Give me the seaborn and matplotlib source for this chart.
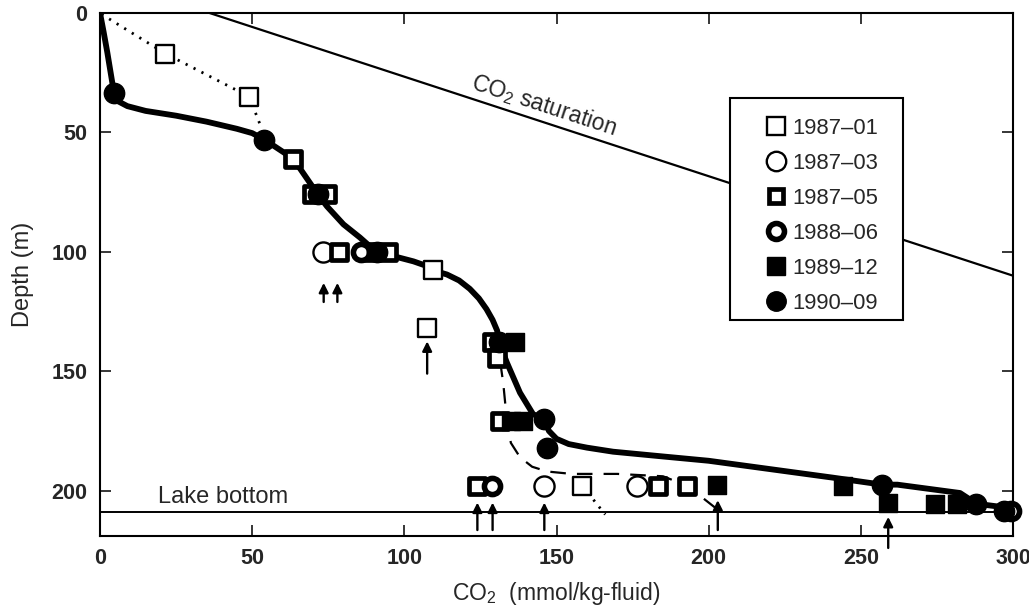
import numpy as np
import matplotlib
matplotlib.use("Agg")
import matplotlib.pyplot as plt
import seaborn as sns
from matplotlib.lines import Line2D
from matplotlib.patches import Rectangle

# ---------------- data ----------------
sat_x = [36, 300]
sat_y = [0, 110]
lake_depth = 209

s8701_x = [21.5, 49, 109.5, 107.5, 158.5]
s8701_y = [17, 35, 107.5, 132, 198]

s8703_x = [73.3, 146, 176.5]
s8703_y = [100, 198, 198]

s8705_x = [63.5, 69.7, 74.6, 78.5, 89, 94.7, 128.8, 130.5, 131.5, 124, 183.5, 193]
s8705_y = [61, 76, 76, 100, 100, 100, 137.6, 144.5, 171, 198, 198, 198]

s8806_x = [85.8, 128.8, 299.5]
s8806_y = [100, 198, 208.5]

s8912_x = [136.4, 135, 139, 202.8, 244, 259, 274.4, 281.6]
s8912_y = [137.6, 171, 171, 197.5, 198, 205, 205.4, 205.4]

s9009_x = [4.6, 54, 71.6, 91, 131, 146, 147, 257, 288, 297]
s9009_y = [33.5, 53, 76, 100, 137.6, 170, 182, 197.5, 205.5, 208.6]

# fitted profile curves
curve_x = [0, 1.2, 2.4, 3.5, 4.6, 6, 9, 15, 25, 35, 45, 50, 54, 63.5, 71.6, 74.6, 80, 85.4,
           88.5, 91, 97, 103, 107.5, 110, 114, 118, 121.5, 124.5, 127, 129, 130.5, 131,
           133.7, 138, 142.3, 146, 147.5, 150, 154, 160, 168.6, 185, 200, 241, 257,
           262, 282.6, 288, 294.8, 298]
curve_y = [0, 8, 16.5, 25, 33.5, 37, 39, 41, 43, 45.5, 48.5, 50.3, 53, 61, 76, 81, 88.5, 94,
           97.5, 100, 102, 104, 106, 108, 109.5, 112, 115.5, 119.5, 124, 128.5, 133, 137.6,
           146.4, 159, 168, 170, 175, 178.3, 180.5, 182, 183.7, 185.7, 187.5, 194.6, 197.5,
           197.5, 201, 205.5, 206.6, 208.6]

dash_x = [131.5, 132.5, 133.5, 135, 138, 142, 147, 155, 170, 185, 193, 203]
dash_y = [146, 155, 168, 180, 186, 190, 192, 193, 193, 194, 198, 208]

dot1_x = [0.5, 21.5, 49, 53]
dot1_y = [0.5, 17, 35, 48]
dot2_x = [158.5, 166]
dot2_y = [198, 210]

arrow_x = [73.5, 78, 107.5, 124, 129, 146, 203, 259]
arrow_tip = [113, 113, 137.5, 205, 205, 205, 204, 211]
arrow_tail = [121, 121, 151, 216.5, 216.5, 216.5, 216.5, 224]

legend_labels = ["1987\u201301", "1987\u201303", "1987\u201305", "1988\u201306", "1989\u201312", "1990\u201309"]

# ---------------- style ----------------
sns.set_style("ticks")
plt.rcParams['font.family'] = ['Liberation Sans', 'DejaVu Sans']
plt.rcParams['mathtext.default'] = 'regular'

fig = plt.figure(figsize=(10.29, 6.10), dpi=100)
ax = fig.add_axes([100 / 1029, 1 - 536 / 610, 913 / 1029, 523 / 610])

ax.set_xlim(0, 300)
ax.set_ylim(219, 0)

# lines
sns.lineplot(x=sat_x, y=sat_y, sort=False, estimator=None, color="black", linewidth=1.6, ax=ax)
ax.axhline(lake_depth, color="black", linewidth=1.4, zorder=1)
sns.lineplot(x=curve_x, y=curve_y, sort=False, estimator=None, color="black", linewidth=4.2,
             ax=ax, zorder=2)
sns.lineplot(x=dash_x, y=dash_y, sort=False, estimator=None, color="black", linewidth=1.6,
             linestyle=(0, (7, 5)), ax=ax, zorder=2)
sns.lineplot(x=dot1_x, y=dot1_y, sort=False, estimator=None, color="black", linewidth=2.0,
             linestyle=(0, (0.8, 2.4)), ax=ax, zorder=2)
sns.lineplot(x=dot2_x, y=dot2_y, sort=False, estimator=None, color="black", linewidth=2.0,
             linestyle=(0, (0.8, 2.4)), ax=ax, zorder=2)

# markers
sns.scatterplot(x=s8701_x, y=s8701_y, marker="s", s=175, facecolor="white", edgecolor="black",
                linewidth=1.7, ax=ax, zorder=4, legend=False)
sns.scatterplot(x=s8703_x, y=s8703_y, marker="o", s=210, facecolor="white", edgecolor="black",
                linewidth=1.7, ax=ax, zorder=4, legend=False)
sns.scatterplot(x=s8705_x, y=s8705_y, marker="s", s=120, facecolor="white", edgecolor="black",
                linewidth=3.4, ax=ax, zorder=4, legend=False)
sns.scatterplot(x=s8806_x, y=s8806_y, marker="o", s=135, facecolor="white", edgecolor="black",
                linewidth=4.0, ax=ax, zorder=4, legend=False, clip_on=False)
sns.scatterplot(x=s8912_x, y=s8912_y, marker="s", s=165, facecolor="black", edgecolor="black",
                linewidth=1.0, ax=ax, zorder=5, legend=False)
sns.scatterplot(x=s9009_x, y=s9009_y, marker="o", s=215, facecolor="black", edgecolor="black",
                linewidth=1.0, ax=ax, zorder=6, legend=False, clip_on=False)

# arrows
for xa, tip, tail in zip(arrow_x, arrow_tip, arrow_tail):
    ax.annotate("", xy=(xa, tip), xytext=(xa, tail), annotation_clip=False,
                arrowprops=dict(arrowstyle="-|>", color="black", lw=1.7,
                                mutation_scale=14, shrinkA=0, shrinkB=0))

# annotations
p0 = ax.transData.transform((sat_x[0], sat_y[0]))
p1 = ax.transData.transform((sat_x[1], sat_y[1]))
ang = np.degrees(np.arctan2(p1[1] - p0[1], p1[0] - p0[0]))
ax.text(146, 38.5, "CO$_2$ saturation", rotation=ang, rotation_mode="anchor",
        ha="center", va="center", fontsize=16.5)
ax.text(19, 202.5, "Lake bottom", ha="left", va="center", fontsize=17)

# axes styling
ax.set_xticks([0, 50, 100, 150, 200, 250, 300])
ax.set_yticks([0, 50, 100, 150, 200])
ax.tick_params(direction="in", length=8, width=1.3, top=True, right=True,
               labelsize=15.5, pad=9)
for lab in ax.get_xticklabels() + ax.get_yticklabels():
    lab.set_fontweight("bold")
for sp in ax.spines.values():
    sp.set_linewidth(1.5)
    sp.set_color("black")

ax.set_xlabel("CO$_2$  (mmol/kg-fluid)", fontsize=16.5)
ax.set_ylabel("Depth (m)", fontsize=17)
ax.xaxis.set_label_coords(0.5, -0.085)
ax.yaxis.set_label_coords(-0.072, 0.5)

# legend: framed box plus entries
box = Rectangle((0.690, 0.413), 0.8795 - 0.690, 0.8375 - 0.413, transform=ax.transAxes,
                facecolor="white", edgecolor="black", linewidth=1.5, zorder=9)
ax.add_patch(box)
handles = [
    Line2D([], [], linestyle="none", marker="s", markersize=12.5, mfc="white", mec="black", mew=1.7),
    Line2D([], [], linestyle="none", marker="o", markersize=14, mfc="white", mec="black", mew=1.7),
    Line2D([], [], linestyle="none", marker="s", markersize=10.5, mfc="white", mec="black", mew=3.4),
    Line2D([], [], linestyle="none", marker="o", markersize=11.5, mfc="white", mec="black", mew=4.0),
    Line2D([], [], linestyle="none", marker="s", markersize=12.5, mfc="black", mec="black", mew=1.0),
    Line2D([], [], linestyle="none", marker="o", markersize=14, mfc="black", mec="black", mew=1.0),
]
leg = ax.legend(handles, legend_labels, loc="upper left", bbox_to_anchor=(0.7279, 0.800),
                frameon=False, fontsize=15.8, labelspacing=0.64, handletextpad=0.25,
                borderpad=0, handlelength=1.0, borderaxespad=0)
leg.set_zorder(10)

fig.savefig("out.png", dpi=100)
